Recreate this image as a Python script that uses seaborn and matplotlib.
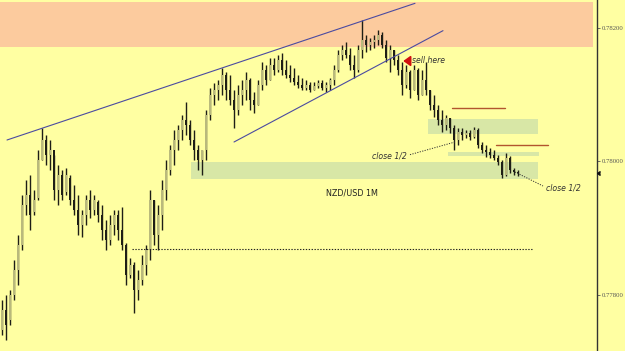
import matplotlib
matplotlib.use("Agg")
import matplotlib.pyplot as plt
import seaborn as sns
import numpy as np
import pandas as pd
from matplotlib.patches import Rectangle

# ---- data (prices in points, 1 point = 0.00001) ----
highs = [77792, 77800, 77807, 77852, 77890, 77950, 77972, 77980, 77957, 78017,
         78050, 78040, 78032, 78010, 77995, 77987, 77990, 77980, 77965, 77950,
         77927, 77950, 77957, 77950, 77942, 77935, 77912, 77920, 77927, 77927,
         77932, 77878, 77855, 77849, 77837, 77860, 77875, 77957, 77942, 77935,
         77972, 78002, 78025, 78047, 78055, 78070, 78089, 78062, 78047, 78025,
         78017, 78077, 78110, 78118, 78122, 78140, 78134, 78130, 78107, 78115,
         78122, 78134, 78125, 78104, 78122, 78149, 78144, 78155, 78155, 78160,
         78162, 78152, 78144, 78140, 78130, 78125, 78122, 78119, 78119, 78122,
         78122, 78119, 78125, 78144, 78167, 78175, 78179, 78170, 78160, 78175,
         78212, 78190, 78185, 78190, 78197, 78194, 78182, 78175, 78167, 78160,
         78149, 78144, 78137, 78144, 78140, 78137, 78149, 78107, 78100, 78085,
         78077, 78070, 78065, 78055, 78050, 78050, 78047, 78047, 78052, 78050,
         78029, 78025, 78020, 78017, 78010, 78002, 78012, 78008, 77990, 77987]
lows = [77740, 77732, 77754, 77792, 77815, 77867, 77920, 77897, 77920, 77942,
        78002, 77995, 77987, 77942, 77935, 77942, 77950, 77935, 77920, 77890,
        77886, 77905, 77915, 77920, 77909, 77882, 77867, 77875, 77890, 77882,
        77867, 77815, 77825, 77772, 77792, 77815, 77830, 77852, 77875, 77867,
        77897, 77942, 77980, 77995, 78017, 78032, 78040, 78025, 78002, 77987,
        77980, 78002, 78062, 78085, 78092, 78100, 78092, 78085, 78050, 78070,
        78085, 78092, 78077, 78072, 78085, 78107, 78115, 78122, 78130, 78134,
        78130, 78125, 78119, 78115, 78110, 78107, 78107, 78104, 78107, 78110,
        78107, 78104, 78107, 78115, 78134, 78152, 78155, 78137, 78125, 78134,
        78155, 78164, 78167, 78170, 78175, 78170, 78149, 78134, 78144, 78130,
        78100, 78110, 78095, 78107, 78092, 78100, 78100, 78077, 78067, 78055,
        78044, 78047, 78042, 78017, 78025, 78032, 78035, 78032, 78035, 78020,
        78012, 78007, 78005, 78002, 77995, 77975, 77978, 77982, 77980, 77978]
opens = [77747, 77777, 77762, 77800, 77837, 77875, 77935, 77950, 77924, 77945,
         78002, 78032, 78010, 78017, 77957, 77980, 77954, 77975, 77942, 77927,
         77905, 77920, 77942, 77927, 77939, 77920, 77897, 77882, 77905, 77920,
         77897, 77875, 77830, 77845, 77807, 77822, 77845, 77867, 77942, 77890,
         77920, 77957, 77987, 78017, 78032, 78047, 78062, 78055, 78032, 78017,
         78002, 78017, 78070, 78100, 78107, 78115, 78130, 78107, 78092, 78077,
         78100, 78107, 78122, 78092, 78085, 78115, 78137, 78122, 78144, 78137,
         78152, 78137, 78130, 78125, 78119, 78115, 78110, 78115, 78107, 78113,
         78117, 78110, 78115, 78122, 78137, 78160, 78167, 78160, 78144, 78137,
         78167, 78182, 78175, 78179, 78182, 78190, 78175, 78155, 78167, 78152,
         78137, 78115, 78134, 78107, 78137, 78100, 78122, 78107, 78085, 78077,
         78062, 78055, 78065, 78050, 78032, 78044, 78040, 78042, 78037, 78047,
         78025, 78017, 78014, 78010, 78005, 77999, 77980, 78005, 77987, 77984]
closes = [77777, 77754, 77800, 77837, 77875, 77935, 77950, 77920, 77942, 78002,
          78032, 78010, 78017, 77957, 77980, 77950, 77980, 77942, 77927, 77905,
          77920, 77942, 77927, 77942, 77920, 77897, 77882, 77905, 77920, 77897,
          77875, 77830, 77845, 77807, 77822, 77845, 77867, 77942, 77890, 77920,
          77957, 77987, 78017, 78032, 78047, 78062, 78055, 78032, 78017, 78002,
          78017, 78070, 78100, 78107, 78115, 78130, 78107, 78092, 78077, 78100,
          78107, 78122, 78092, 78085, 78115, 78137, 78122, 78144, 78137, 78152,
          78137, 78130, 78125, 78119, 78115, 78110, 78115, 78107, 78113, 78117,
          78110, 78115, 78122, 78137, 78160, 78167, 78160, 78144, 78137, 78167,
          78182, 78175, 78179, 78182, 78190, 78175, 78155, 78167, 78152, 78137,
          78115, 78134, 78107, 78137, 78100, 78122, 78107, 78085, 78077, 78062,
          78055, 78065, 78050, 78032, 78044, 78040, 78042, 78037, 78047, 78025,
          78017, 78014, 78010, 78005, 77999, 77980, 78005, 77987, 77984, 77982]

yticks = [0.77800, 0.78000, 0.78200]
ytick_labels = ["0.77800", "0.78000", "0.78200"]
title_text = "NZD/USD 1M"

# annotation geometry in (bar index, price points)
supply_zone = (78172, 78239)
upper_trend = ([1.25, 103.25], [78032, 78237])
lower_trend = ([58.0, 110.25], [78029, 78196])
green_zones = [(106.5, 134.0, 78041, 78064), (111.5, 134.25, 78008, 78014),
               (47.25, 134.0, 77974, 77999)]
target_lines = [(112.5, 125.75, 78080), (123.5, 136.5, 78025)]
dotted_level = (32.5, 132.75, 77869)
close_lines = [([128.25, 135.25], [77984, 77963]), ([102.0, 113.25], [78010, 78029])]

# ---- frame ----
df = pd.DataFrame({"open": opens, "high": highs, "low": lows, "close": closes})
df = df / 1e5
df["idx"] = np.arange(len(df))
df["dir"] = np.where(df["close"] >= df["open"], "up", "down")

sns.set_theme(style="white")
plt.rcParams["font.family"] = ["DejaVu Sans"]

bg = "#FFFFA2"
fig = plt.figure(figsize=(6.25, 3.51), dpi=100, facecolor=bg)
ax = fig.add_axes([0, 0, 597 / 625, 1])
ax.set_facecolor(bg)

ax.set_xlim(-0.5, 148.75)
ax.set_ylim(0.777155, 0.78242)

# supply zone
ax.axhspan(supply_zone[0] / 1e5, supply_zone[1] / 1e5, xmin=0, xmax=148.25 / 149.25,
           color="#FCCB9E", lw=0, zorder=0)

for x0, x1, y0, y1 in green_zones:
    ax.add_patch(Rectangle((x0, y0 / 1e5), x1 - x0, (y1 - y0) / 1e5,
                           facecolor="#D8E7A6", edgecolor="none", zorder=1))

# candles
ax.vlines(df["idx"], df["low"], df["high"], color="#1e1e16", lw=1.0, zorder=3)
palette = {"up": "#B9B97C", "down": "#1e1e16"}
body_bottom = np.minimum(df["open"], df["close"])
body_h = np.maximum(np.abs(df["close"] - df["open"]), 0.000012)
ax.bar(df["idx"], body_h, bottom=body_bottom, width=0.7,
       color=[palette[d] for d in df["dir"]], edgecolor="none", zorder=4)

# trend lines
ax.plot(upper_trend[0], np.array(upper_trend[1]) / 1e5, color="#4B4BA0", lw=0.8, zorder=5)
ax.plot(lower_trend[0], np.array(lower_trend[1]) / 1e5, color="#4B4BA0", lw=0.8, zorder=5)

for x0, x1, y in target_lines:
    ax.plot([x0, x1], [y / 1e5, y / 1e5], color="#B2552E", lw=1.0, zorder=5)

ax.plot([dotted_level[0], dotted_level[1]], [dotted_level[2] / 1e5] * 2,
        color="#222222", lw=0.8, ls=(0, (1.2, 1.4)), zorder=5)
for xs, ys in close_lines:
    ax.plot(xs, np.array(ys) / 1e5, color="#333333", lw=0.7, ls=(0, (1.2, 1.4)), zorder=5)

txt_kw = dict(fontsize=5.6, color="#333333", zorder=6)
ax.text(136.0, 0.77960, "close 1/2", ha="left", va="center", style="italic", **txt_kw)
ax.text(101.3, 0.78008, "close 1/2", ha="right", va="center", style="italic", **txt_kw)
ax.text(102.5, 0.781505, "sell here", ha="left", va="center", style="italic", **txt_kw)
ax.text(87.5, 0.779525, title_text, ha="center", va="center", fontsize=5.8, color="#222222", zorder=6)
ax.annotate("", xy=(99.6, 0.781505), xytext=(101.9, 0.781505),
            arrowprops=dict(arrowstyle="-|>,head_width=0.25,head_length=0.35",
                            color="#D01010", lw=1.3), zorder=6)

# current price marker
ax.plot([148.75], [df["close"].iloc[-1]], marker=4, color="#111111", ms=3, clip_on=False, zorder=7)

# axes styling
for s in ["top", "left", "bottom"]:
    ax.spines[s].set_visible(False)
ax.spines["right"].set_color("#333333")
ax.spines["right"].set_linewidth(1.0)
ax.set_xticks([])
ax.yaxis.tick_right()
ax.set_yticks(yticks)
ax.set_yticklabels(ytick_labels, family="Liberation Serif", fontsize=4.8, color="#555555")
ax.tick_params(axis="y", direction="out", length=2, width=0.6, color="#555555", pad=1.5)
ax.grid(False)

fig.savefig("out.png", dpi=100, facecolor=bg)
